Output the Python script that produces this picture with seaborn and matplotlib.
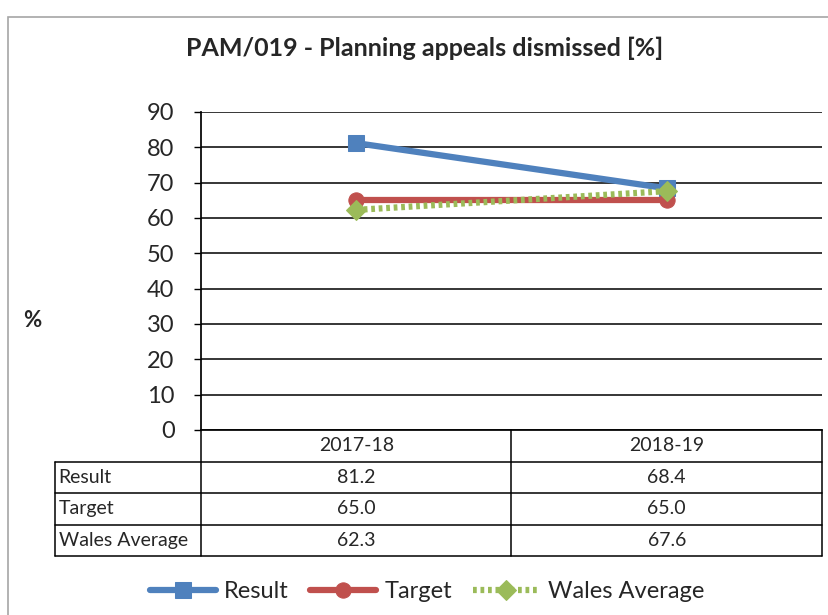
import pandas as pd
import matplotlib
matplotlib.use('Agg')
import matplotlib.pyplot as plt
import matplotlib.patches as mpatches
import matplotlib.transforms as mtransforms
import seaborn as sns

# donnees du graphique
periods = ['2017-18', '2018-19']
result = [81.2, 68.4]
target = [65.0, 65.0]
wales_avg = [62.3, 67.6]
series_names = ['Result', 'Target', 'Wales Average']
colors = ['#4F81BD', '#C0504D', '#9BBB59']
markers = ['s', 'o', 'D']
yticks = list(range(0, 91, 10))

sns.set_theme(style='white')
plt.rcParams['font.family'] = ['Lato', 'DejaVu Sans']

df = pd.DataFrame({
    'x': [0, 1] * 3,
    'value': result + target + wales_avg,
    'series': [s for s in series_names for _ in periods],
})

fig = plt.figure(figsize=(8.29, 6.15), dpi=100)
# cadre du graphique
fig.add_artist(mpatches.Rectangle((8 / 829, -0.1), 1.0, 1 - 17 / 615 + 0.1,
                                  transform=fig.transFigure, fill=False,
                                  edgecolor='#a6a6a6', lw=1.2))

ax = fig.add_axes([201 / 829, 1 - 430 / 615, 621 / 829, 318 / 615])

for name, col, mk in zip(series_names, colors, markers):
    sub = df[df['series'] == name]
    ls = (0, (0.6, 0.6)) if name == 'Wales Average' else '-'
    sns.lineplot(data=sub, x='x', y='value', ax=ax, color=col, lw=4.5,
                 linestyle=ls, marker=mk, markersize=11 if mk != 'D' else 10,
                 markeredgecolor=col, label=name, zorder=3)

ax.set_xlim(-0.5, 1.5)
ax.set_ylim(0, 90)
ax.set_yticks(yticks)
ax.set_yticklabels([str(t) for t in yticks], fontsize=17)
ax.set_xticks([])
ax.set_xlabel('')
ax.set_ylabel('')
for t in yticks:
    ax.axhline(t, color='black', lw=1.1, zorder=1)
for s in ['top', 'right']:
    ax.spines[s].set_visible(False)
ax.spines['left'].set_color('black')
ax.spines['bottom'].set_color('black')
ax.tick_params(axis='y', length=5, width=1, color='black', direction='out', left=True, pad=14)

fig.text(425 / 829, 1 - 48 / 615, 'PAM/019 - Planning appeals dismissed [%]', fontsize=18,
         fontweight='bold', ha='center', va='center')
fig.text(32 / 829, 1 - 320 / 615, '%', fontsize=16, fontweight='bold', ha='center', va='center')

# tableau de donnees (lignes et textes)
row_h = 31.5 / 318
left = -146 / 621
trans = mtransforms.blended_transform_factory(ax.transData, ax.transAxes)
kw = dict(color='black', lw=1.1, clip_on=False, transform=ax.transAxes)
bottom = -4 * row_h
for x in (0, 0.5, 1):
    ax.plot([x, x], [0, bottom], **kw)
ax.plot([left, left], [-row_h, bottom], **kw)
for i in range(1, 5):
    ax.plot([left, 1], [-i * row_h, -i * row_h], **kw)
for j, p in enumerate(periods):
    ax.text(j, -0.5 * row_h, p, transform=trans, ha='center', va='center', fontsize=14)
for i, (name, vals) in enumerate(zip(series_names, (result, target, wales_avg))):
    yc = -(i + 1.5) * row_h
    ax.text(left + 0.006, yc, name, transform=ax.transAxes, ha='left', va='center', fontsize=14)
    for j, v in enumerate(vals):
        ax.text(j, yc, f'{v:.1f}', transform=trans, ha='center', va='center', fontsize=14)

ax.legend(loc='center', bbox_to_anchor=((427 - 201) / 621, (615 - 592 - 185) / 318),
          ncol=3, frameon=False, fontsize=17, handlelength=2.8,
          columnspacing=0.9, handletextpad=0.35)

fig.savefig('out.png', dpi=100)
